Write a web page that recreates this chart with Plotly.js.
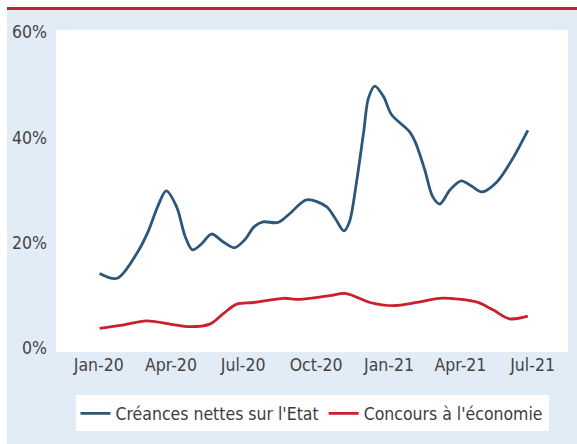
<!DOCTYPE html>
<html><head><meta charset="utf-8">
<script src="https://cdn.plot.ly/plotly-3.0.1.min.js"></script>
<style>
html,body{margin:0;padding:0;background:#fff;width:577px;height:444px;overflow:hidden}
#bar{position:absolute;left:7px;top:7px;width:570px;height:3px;background:#c8202a}
#chart{position:absolute;left:7px;top:10px;width:570px;height:434px}
</style></head><body>
<div id="bar"></div><div id="chart"></div>
<script>
const seriesNames = ["Créances nettes sur l'Etat", "Concours à l'économie"];

const creancesDates = [
  "2020-01-02","2020-01-24","2020-02-19","2020-03-03","2020-03-16","2020-03-26",
  "2020-04-08","2020-04-19","2020-04-28","2020-05-10","2020-05-22","2020-06-06","2020-06-20",
  "2020-07-03","2020-07-15","2020-07-26","2020-08-14","2020-08-29","2020-09-19","2020-10-14",
  "2020-10-25","2020-11-05","2020-11-12","2020-11-21","2020-11-30","2020-12-06","2020-12-14",
  "2020-12-25","2021-01-04","2021-01-27","2021-02-03","2021-02-15","2021-02-25","2021-03-06",
  "2021-03-19","2021-04-02","2021-04-15","2021-04-28","2021-05-17","2021-06-05","2021-06-25"
];
const creancesValues = [
  14.2, 13.3, 18.3, 22.1, 27.2, 29.9,
  26.9, 21.2, 18.7, 19.9, 21.7, 20.2, 19.1,
  20.6, 23.1, 24.0, 23.9, 25.6, 28.2, 26.9,
  24.7, 22.3, 24.0, 31.6, 41.1, 47.5, 49.8,
  47.8, 44.4, 41.1, 39.2, 33.9, 28.8, 27.4,
  30.1, 31.8, 30.8, 29.7, 31.6, 35.8, 41.4
];

const concoursDates = [
  "2020-01-02","2020-01-31","2020-03-01","2020-03-31","2020-04-25","2020-05-20","2020-06-06",
  "2020-06-23","2020-07-14","2020-08-21","2020-09-10","2020-10-18","2020-11-08","2020-12-08",
  "2021-01-06","2021-02-05","2021-03-06","2021-04-21","2021-05-12","2021-06-02","2021-06-25"
];
const concoursValues = [
  3.8, 4.4, 5.2, 4.6, 4.1, 4.6, 6.6,
  8.4, 8.7, 9.5, 9.3, 10.0, 10.4, 8.7,
  8.1, 8.7, 9.5, 8.8, 7.3, 5.6, 6.1
];

const tickDates = ["2020-01-01","2020-04-01","2020-07-01","2020-10-01","2021-01-01","2021-04-01","2021-07-01"];
const tickLabels = ["Jan-20","Apr-20","Jul-20","Oct-20","Jan-21","Apr-21","Jul-21"];
const yTickVals = [0, 20, 40, 60];
const yTickLabels = ["0%", "20%", "40%", "60%"];

const FONT = "'DejaVu Sans Condensed', 'Liberation Sans Narrow', sans-serif";
const FS = 17.5;

const traces = [
  {x: creancesDates, y: creancesValues, name: seriesNames[0], type: "scatter", mode: "lines",
   line: {color: "#2b587a", width: 2.8, shape: "spline", smoothing: 0.9}},
  {x: concoursDates, y: concoursValues, name: seriesNames[1], type: "scatter", mode: "lines",
   line: {color: "#c8202c", width: 2.8, shape: "spline", smoothing: 0.9}}
];

const layout = {
  width: 570, height: 434,
  margin: {l: 49, r: 9, t: 20, b: 92},
  paper_bgcolor: "#e2ecf6",
  plot_bgcolor: "#ffffff",
  font: {family: FONT, size: FS, color: "#444444"},
  showlegend: true,
  xaxis: {
    type: "date",
    range: ["2019-11-08", "2021-08-14 16:00"],
    tickvals: tickDates, ticktext: tickLabels,
    showgrid: false, zeroline: false, showline: false, ticks: "",
    automargin: false,
    tickfont: {family: FONT, size: FS, color: "#444444"}
  },
  yaxis: {
    range: [-0.7, 60.44],
    tickvals: yTickVals, ticktext: yTickLabels,
    showgrid: false, zeroline: false, showline: false, ticks: "",
    automargin: false,
    ticklabelstandoff: 8,
    tickfont: {family: FONT, size: FS, color: "#444444"}
  },
  legend: {
    orientation: "h", x: 0.5, xanchor: "center", y: -0.135, yanchor: "top",
    bgcolor: "#ffffff", borderwidth: 0,
    font: {family: FONT, size: FS, color: "#3c3c3c"},
    itemwidth: 30
  }
};

Plotly.newPlot("chart", traces, layout, {staticPlot: true, displayModeBar: false});
</script>
</body></html>
